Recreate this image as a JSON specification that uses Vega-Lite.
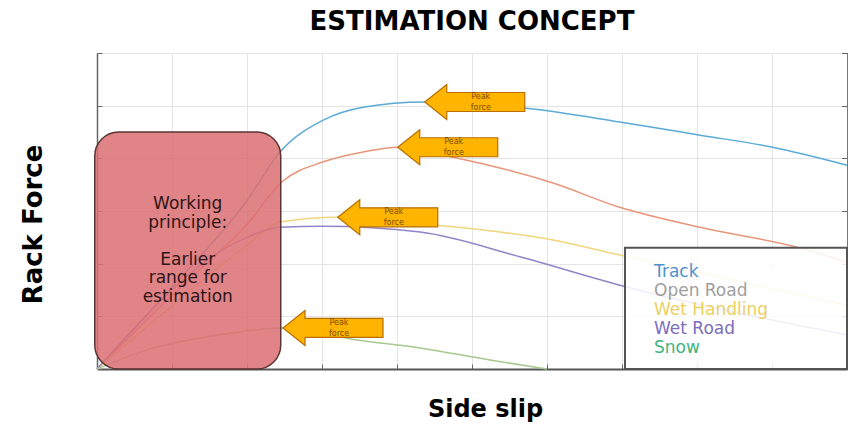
{
  "$schema": "https://vega.github.io/schema/vega-lite/v6.json",
  "width": 750,
  "height": 316,
  "autosize": {"type": "none"},
  "padding": {"left": 97, "top": 53, "right": 9, "bottom": 55},
  "background": "white",
  "title": {
    "text": "ESTIMATION CONCEPT",
    "font": "DejaVu Sans",
    "fontSize": 26,
    "fontWeight": "bold",
    "color": "#000000",
    "anchor": "middle",
    "baseline": "alphabetic",
    "offset": 24,
    "dy": 27
  },
  "config": {
    "view": {"stroke": "#dddddd", "strokeWidth": 1},
    "axis": {
      "grid": true,
      "gridColor": "#e4e4e4",
      "gridWidth": 1,
      "labels": false,
      "tickSize": -5,
      "tickColor": "#666666",
      "domainColor": "#666666"
    }
  },
  "datasets": {
    "curves": [
      {"road": "Track", "slip": 0, "force": 0},
      {"road": "Track", "slip": 1, "force": 1.55},
      {"road": "Track", "slip": 2, "force": 3.2},
      {"road": "Track", "slip": 2.44, "force": 4.12},
      {"road": "Track", "slip": 3.01, "force": 4.72},
      {"road": "Track", "slip": 3.55, "force": 4.97},
      {"road": "Track", "slip": 4.37, "force": 5.07},
      {"road": "Track", "slip": 5.73, "force": 4.95},
      {"road": "Track", "slip": 6.97, "force": 4.69},
      {"road": "Track", "slip": 8.04, "force": 4.44},
      {"road": "Track", "slip": 9.01, "force": 4.21},
      {"road": "Track", "slip": 10, "force": 3.87},
      {"road": "Open Road", "slip": 0, "force": 0},
      {"road": "Open Road", "slip": 1, "force": 1.4},
      {"road": "Open Road", "slip": 2, "force": 2.75},
      {"road": "Open Road", "slip": 2.48, "force": 3.57},
      {"road": "Open Road", "slip": 3.01, "force": 3.93},
      {"road": "Open Road", "slip": 3.55, "force": 4.12},
      {"road": "Open Road", "slip": 4.01, "force": 4.21},
      {"road": "Open Road", "slip": 4.75, "force": 4.02},
      {"road": "Open Road", "slip": 6.08, "force": 3.53},
      {"road": "Open Road", "slip": 6.97, "force": 3.07},
      {"road": "Open Road", "slip": 8.04, "force": 2.69},
      {"road": "Open Road", "slip": 9.37, "force": 2.3},
      {"road": "Open Road", "slip": 10, "force": 2.03},
      {"road": "Wet Handling", "slip": 0, "force": 0},
      {"road": "Wet Handling", "slip": 1, "force": 1.2},
      {"road": "Wet Handling", "slip": 2, "force": 2.35},
      {"road": "Wet Handling", "slip": 2.44, "force": 2.79},
      {"road": "Wet Handling", "slip": 3.21, "force": 2.88},
      {"road": "Wet Handling", "slip": 4.53, "force": 2.73},
      {"road": "Wet Handling", "slip": 6.08, "force": 2.45},
      {"road": "Wet Handling", "slip": 7.07, "force": 2.13},
      {"road": "Wet Handling", "slip": 10, "force": 1.21},
      {"road": "Wet Road", "slip": 0, "force": 0},
      {"road": "Wet Road", "slip": 1, "force": 1.5},
      {"road": "Wet Road", "slip": 1.5, "force": 2.1},
      {"road": "Wet Road", "slip": 2, "force": 2.5},
      {"road": "Wet Road", "slip": 2.44, "force": 2.69},
      {"road": "Wet Road", "slip": 3.01, "force": 2.71},
      {"road": "Wet Road", "slip": 4.31, "force": 2.6},
      {"road": "Wet Road", "slip": 5.64, "force": 2.13},
      {"road": "Wet Road", "slip": 6.97, "force": 1.59},
      {"road": "Wet Road", "slip": 10, "force": 0.65},
      {"road": "Snow", "slip": 0, "force": 0},
      {"road": "Snow", "slip": 0.8, "force": 0.42},
      {"road": "Snow", "slip": 1.47, "force": 0.61},
      {"road": "Snow", "slip": 2.48, "force": 0.78},
      {"road": "Snow", "slip": 3.47, "force": 0.55},
      {"road": "Snow", "slip": 4.31, "force": 0.4},
      {"road": "Snow", "slip": 5.24, "force": 0.17},
      {"road": "Snow", "slip": 6, "force": 0}
    ],
    "peaks": [
      {"road": "Track", "slip": 4.37, "force": 5.07},
      {"road": "Open Road", "slip": 4.01, "force": 4.21},
      {"road": "Wet Handling", "slip": 3.21, "force": 2.88},
      {"road": "Snow", "slip": 2.48, "force": 0.78}
    ]
  },
  "resolve": {"axis": {"y": "independent"}},
  "layer": [
    {
      "data": {"name": "curves"},
      "mark": {"type": "line", "strokeWidth": 1.5, "interpolate": "monotone"},
      "encoding": {
        "x": {
          "field": "slip", "type": "quantitative",
          "scale": {"domain": [0, 10], "nice": false},
          "axis": {
            "values": [0,1,2,3,4,5,6,7,8,9,10],
            "title": "Side slip",
            "titleFont": "DejaVu Sans", "titleFontSize": 24, "titleFontWeight": "bold", "titleColor": "#000000",
            "titleX": 388, "titleY": 40, "titleBaseline": "middle", "titleAlign": "center",
            "domainWidth": 2, "domainColor": "#555555"
          }
        },
        "y": {
          "field": "force", "type": "quantitative",
          "scale": {"domain": [0, 6], "nice": false},
          "axis": {
            "values": [0,1,2,3,4,5,6],
            "title": "Rack Force",
            "titleFont": "DejaVu Sans", "titleFontSize": 26, "titleFontWeight": "bold", "titleColor": "#000000",
            "titleX": -64, "titleY": 171, "titleAngle": -90, "titleBaseline": "middle", "titleAlign": "center",
            "domainWidth": 1.5
          }
        },
        "color": {
          "field": "road", "type": "nominal",
          "scale": {
            "domain": ["Track", "Open Road", "Wet Handling", "Wet Road", "Snow"],
            "range": ["#5aaad8", "#e8957a", "#f0d67c", "#9284c8", "#a8c890"]
          },
          "legend": {
            "orient": "none",
            "legendX": 540,
            "legendY": 210,
            "title": null,
            "padding": 0,
            "symbolType": "stroke",
            "symbolSize": 1,
            "symbolOpacity": 0,
            "symbolStrokeWidth": 0,
            "labelOffset": 0,
            "labelFont": "DejaVu Sans",
            "labelFontSize": 17,
            "rowPadding": 1,
            "labelBaseline": "middle",
            "encode": {
              "labels": {
                "update": {
                  "fill": {"signal": "datum.label === 'Track' ? '#4d92cc' : datum.label === 'Open Road' ? '#9e9e9e' : datum.label === 'Wet Handling' ? '#ecd060' : datum.label === 'Wet Road' ? '#7c6cbc' : '#3fb47e'"}
                }
              }
            }
          }
        },
        "detail": {"field": "road"}
      }
    },
    {
      "data": {"values": [{}]},
      "mark": {"type": "rect", "cornerRadius": 24, "fill": "#dc6e72", "fillOpacity": 0.85, "stroke": "#5a3535", "strokeWidth": 1.5},
      "encoding": {
        "x": {"datum": -0.03, "type": "quantitative"},
        "x2": {"datum": 2.45},
        "y": {"datum": 0, "type": "quantitative"},
        "y2": {"datum": 4.5}
      }
    },
    {
      "data": {"values": [{}]},
      "mark": {"type": "text", "text": ["Working", "principle:"], "font": "DejaVu Sans", "fontSize": 17, "lineHeight": 18.5, "align": "center", "baseline": "middle", "color": "#2e1516"},
      "encoding": {
        "x": {"datum": 1.21, "type": "quantitative"},
        "y": {"datum": 3.13, "type": "quantitative"}
      }
    },
    {
      "data": {"values": [{}]},
      "mark": {"type": "text", "text": ["Earlier", "range for", "estimation"], "font": "DejaVu Sans", "fontSize": 17, "lineHeight": 18.5, "align": "center", "baseline": "middle", "color": "#2e1516"},
      "encoding": {
        "x": {"datum": 1.21, "type": "quantitative"},
        "y": {"datum": 2.07, "type": "quantitative"}
      }
    },
    {
      "data": {"values": [{}]},
      "mark": {"type": "rect", "fill": "#ffffff", "fillOpacity": 0.85, "stroke": "#555555", "strokeWidth": 2},
      "encoding": {
        "x": {"datum": 7.04, "type": "quantitative"},
        "x2": {"datum": 10},
        "y": {"datum": 0, "type": "quantitative"},
        "y2": {"datum": 2.3}
      }
    },
    {
      "data": {"name": "peaks"},
      "mark": {"type": "point", "shape": "M0,0L2.2,-1.75L2.2,-0.95L10,-0.95L10,0.95L2.2,0.95L2.2,1.75Z", "size": 400, "filled": true, "fill": "#ffb400", "fillOpacity": 1, "stroke": "#b86e00", "strokeWidth": 1.2, "opacity": 1},
      "encoding": {
        "x": {"field": "slip", "type": "quantitative"},
        "y": {"field": "force", "type": "quantitative", "axis": {"orient": "right", "title": null, "labels": false, "grid": false, "values": [0,1,2,3,4,5,6], "domainColor": "#777777"}}
      }
    },
    {
      "data": {"name": "peaks"},
      "mark": {"type": "text", "text": ["Peak", "force"], "font": "DejaVu Sans", "fontSize": 8, "lineHeight": 11, "align": "center", "baseline": "middle", "dx": 56, "dy": -5, "color": "#7a4e00"},
      "encoding": {
        "x": {"field": "slip", "type": "quantitative"},
        "y": {"field": "force", "type": "quantitative", "axis": null}
      }
    }
  ]
}
